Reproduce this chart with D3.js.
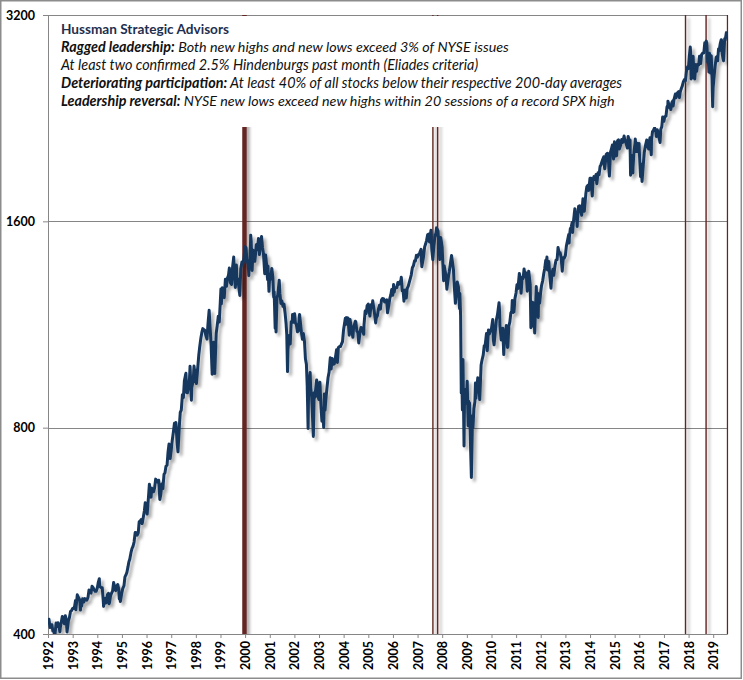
<!DOCTYPE html>
<html>
<head>
<meta charset="utf-8">
<script src="https://cdn.jsdelivr.net/npm/d3@7"></script>
<style>
  body { margin: 0; background: #fff; }
  text { font-family: Lato, "Open Sans", sans-serif; }
</style>
</head>
<body>
<div id="chart"></div>
<script>
// S&P 500 (SPX), roughly twice a month plus the notable highs / lows
const spx = [
  ["1992-01-02",417.3],["1992-01-15",420.4],["1992-01-31",408.8],["1992-02-14",412.5],["1992-02-28",412.7],["1992-03-13",403.9],["1992-03-31",403.7],["1992-04-08",394.5],["1992-04-30",414.9],["1992-05-15",410.1],["1992-05-29",415.4],["1992-06-12",409.8],["1992-06-25",403.1],["1992-06-30",408.1],["1992-07-15",415.6],["1992-07-31",424.2],["1992-08-14",419.9],["1992-08-31",414.0],["1992-09-14",425.3],["1992-09-30",417.8],["1992-10-09",402.7],["1992-10-30",418.7],["1992-11-13",422.4],["1992-11-30",431.4],["1992-12-15",432.6],["1992-12-31",435.7],
  ["1993-01-15",435.9],["1993-01-29",438.8],["1993-02-12",447.7],["1993-02-16",433.9],["1993-02-26",443.4],["1993-03-10",456.3],["1993-03-31",451.7],["1993-04-15",448.4],["1993-04-26",433.5],["1993-04-30",440.2],["1993-05-14",439.6],["1993-05-28",450.2],["1993-06-15",445.4],["1993-06-30",450.5],["1993-07-15",449.2],["1993-07-30",448.1],["1993-08-16",452.4],["1993-08-31",463.6],["1993-09-15",461.6],["1993-09-30",458.9],["1993-10-15",469.5],["1993-10-29",467.8],["1993-11-15",463.8],["1993-11-30",461.8],["1993-12-15",461.8],["1993-12-31",466.5],
  ["1994-01-14",474.9],["1994-01-31",481.6],["1994-02-04",469.8],["1994-02-28",467.1],["1994-03-15",467.4],["1994-03-31",445.8],["1994-04-04",438.9],["1994-04-15",446.2],["1994-04-29",450.9],["1994-05-13",444.1],["1994-05-31",456.5],["1994-06-15",458.6],["1994-06-24",442.8],["1994-06-30",444.3],["1994-07-15",454.2],["1994-07-29",458.3],["1994-08-15",461.9],["1994-08-31",475.5],["1994-09-15",468.8],["1994-09-30",462.7],["1994-10-14",469.1],["1994-10-31",472.4],["1994-11-15",465.0],["1994-11-23",449.9],["1994-11-30",453.7],["1994-12-09",446.0],["1994-12-30",459.3],
  ["1995-01-13",465.9],["1995-01-31",470.4],["1995-02-15",484.6],["1995-02-28",487.4],["1995-03-15",491.9],["1995-03-31",500.7],["1995-04-13",509.2],["1995-04-28",514.7],["1995-05-15",525.6],["1995-05-31",533.4],["1995-06-15",537.1],["1995-06-30",544.8],["1995-07-17",562.7],["1995-07-31",562.1],["1995-08-15",557.4],["1995-08-31",561.9],["1995-09-14",583.6],["1995-09-29",584.4],["1995-10-13",587.4],["1995-10-27",579.7],["1995-10-31",581.5],["1995-11-15",593.3],["1995-11-30",605.4],["1995-12-13",621.7],["1995-12-29",615.9],
  ["1996-01-10",598.5],["1996-01-31",636.0],["1996-02-12",661.5],["1996-02-29",640.4],["1996-03-08",633.5],["1996-03-18",652.7],["1996-03-29",645.5],["1996-04-15",645.1],["1996-04-30",654.2],["1996-05-15",673.0],["1996-05-31",669.1],["1996-06-14",665.9],["1996-06-28",670.6],["1996-07-05",657.4],["1996-07-16",628.4],["1996-07-31",639.9],["1996-08-15",662.3],["1996-08-30",652.0],["1996-09-16",684.0],["1996-09-30",687.3],["1996-10-15",702.6],["1996-10-31",705.3],["1996-11-15",737.6],["1996-11-29",757.0],["1996-12-05",744.4],["1996-12-16",721.0],["1996-12-31",740.7],
  ["1997-01-15",765.0],["1997-01-31",786.2],["1997-02-18",812.0],["1997-02-28",790.8],["1997-03-11",813.7],["1997-03-31",757.1],["1997-04-11",737.7],["1997-04-30",801.3],["1997-05-15",841.9],["1997-05-30",848.3],["1997-06-16",893.9],["1997-06-30",885.1],["1997-07-15",936.6],["1997-07-31",954.3],["1997-08-07",960.3],["1997-08-15",900.8],["1997-08-29",899.5],["1997-09-15",919.8],["1997-09-30",947.3],["1997-10-07",983.1],["1997-10-27",877.0],["1997-10-31",914.6],["1997-11-14",928.4],["1997-11-28",955.4],["1997-12-05",983.8],["1997-12-24",932.7],["1997-12-31",970.4],
  ["1998-01-09",927.7],["1998-01-30",980.3],["1998-02-13",1020.1],["1998-02-27",1049.3],["1998-03-16",1080.5],["1998-03-31",1101.8],["1998-04-14",1115.8],["1998-04-30",1111.8],["1998-05-15",1108.7],["1998-05-29",1090.8],["1998-06-15",1077.0],["1998-06-30",1133.8],["1998-07-17",1186.8],["1998-07-31",1120.7],["1998-08-14",1062.8],["1998-08-31",957.3],["1998-09-15",1029.7],["1998-09-23",1066.1],["1998-09-30",1017.0],["1998-10-08",959.4],["1998-10-30",1098.7],["1998-11-13",1125.7],["1998-11-30",1163.6],["1998-12-14",1141.2],["1998-12-31",1229.2],
  ["1999-01-08",1275.1],["1999-01-14",1212.2],["1999-01-29",1279.6],["1999-02-09",1243.8],["1999-02-26",1238.3],["1999-03-15",1316.6],["1999-03-31",1286.4],["1999-04-15",1322.9],["1999-04-30",1335.2],["1999-05-13",1367.6],["1999-05-28",1301.8],["1999-06-14",1294.0],["1999-06-30",1372.7],["1999-07-16",1418.8],["1999-07-30",1328.7],["1999-08-10",1281.4],["1999-08-25",1381.8],["1999-08-31",1320.4],["1999-09-15",1318.5],["1999-09-30",1282.7],["1999-10-15",1247.4],["1999-10-29",1362.9],["1999-11-15",1396.1],["1999-11-30",1388.9],["1999-12-15",1413.3],["1999-12-31",1469.3],
  ["2000-01-14",1465.2],["2000-01-31",1394.5],["2000-02-15",1402.1],["2000-02-25",1333.4],["2000-02-29",1366.4],["2000-03-15",1392.1],["2000-03-24",1527.5],["2000-03-31",1498.6],["2000-04-14",1356.6],["2000-04-28",1452.4],["2000-05-12",1421.0],["2000-05-24",1399.1],["2000-05-31",1420.6],["2000-06-15",1478.7],["2000-06-30",1454.6],["2000-07-17",1510.5],["2000-07-31",1430.8],["2000-08-15",1484.4],["2000-09-01",1520.8],["2000-09-15",1465.8],["2000-09-29",1436.5],["2000-10-18",1342.1],["2000-10-31",1429.4],["2000-11-15",1383.0],["2000-11-30",1315.2],["2000-12-05",1376.5],["2000-12-20",1264.7],["2000-12-29",1320.3],
  ["2001-01-15",1318.3],["2001-01-31",1366.0],["2001-02-15",1326.6],["2001-02-28",1239.9],["2001-03-07",1263.0],["2001-03-22",1117.6],["2001-03-30",1160.3],["2001-04-04",1103.3],["2001-04-18",1238.2],["2001-04-30",1249.5],["2001-05-21",1312.8],["2001-05-31",1255.8],["2001-06-15",1214.4],["2001-06-29",1224.4],["2001-07-16",1202.5],["2001-07-31",1211.2],["2001-08-15",1178.0],["2001-08-31",1133.6],["2001-09-10",1092.5],["2001-09-21",965.8],["2001-09-28",1040.9],["2001-10-15",1090.0],["2001-10-31",1059.8],["2001-11-15",1142.2],["2001-11-30",1139.5],["2001-12-05",1170.4],["2001-12-20",1139.9],["2001-12-31",1148.1],
  ["2002-01-04",1172.5],["2002-01-15",1138.4],["2002-01-31",1130.2],["2002-02-15",1104.2],["2002-02-28",1106.7],["2002-03-19",1170.3],["2002-03-28",1147.4],["2002-04-15",1102.6],["2002-04-30",1076.9],["2002-05-14",1097.3],["2002-05-31",1067.1],["2002-06-14",1007.3],["2002-06-28",989.8],["2002-07-10",920.5],["2002-07-23",797.7],["2002-07-31",911.6],["2002-08-22",962.7],["2002-08-30",916.1],["2002-09-13",889.8],["2002-09-30",815.3],["2002-10-09",776.8],["2002-10-21",899.7],["2002-10-31",885.8],["2002-11-27",938.9],["2002-11-29",936.3],["2002-12-13",889.5],["2002-12-31",879.8],
  ["2003-01-14",931.7],["2003-01-31",855.7],["2003-02-13",817.4],["2003-02-28",841.2],["2003-03-11",800.7],["2003-03-21",895.8],["2003-03-31",848.2],["2003-04-15",885.2],["2003-04-30",916.9],["2003-05-15",946.7],["2003-05-30",963.6],["2003-06-17",1011.7],["2003-06-30",974.5],["2003-07-14",1009.1],["2003-07-31",990.3],["2003-08-15",990.7],["2003-08-29",1008.0],["2003-09-18",1039.6],["2003-09-30",996.0],["2003-10-15",1046.9],["2003-10-31",1050.7],["2003-11-14",1050.4],["2003-11-28",1058.2],["2003-12-15",1068.0],["2003-12-31",1111.9],
  ["2004-01-26",1155.4],["2004-01-30",1131.1],["2004-02-11",1157.8],["2004-02-27",1144.9],["2004-03-05",1156.9],["2004-03-24",1091.3],["2004-03-31",1126.2],["2004-04-05",1150.6],["2004-04-30",1107.3],["2004-05-17",1084.1],["2004-05-28",1120.7],["2004-06-23",1144.1],["2004-06-30",1140.8],["2004-07-15",1106.7],["2004-07-30",1101.7],["2004-08-12",1063.2],["2004-08-31",1104.2],["2004-09-15",1120.4],["2004-09-30",1114.6],["2004-10-25",1094.8],["2004-10-29",1130.2],["2004-11-15",1183.8],["2004-11-30",1173.8],["2004-12-15",1205.7],["2004-12-31",1211.9],
  ["2005-01-24",1163.8],["2005-01-31",1181.3],["2005-02-15",1210.1],["2005-02-28",1203.6],["2005-03-07",1225.3],["2005-03-31",1180.6],["2005-04-20",1137.5],["2005-04-29",1156.9],["2005-05-16",1165.7],["2005-05-31",1191.5],["2005-06-15",1206.6],["2005-06-30",1191.3],["2005-07-15",1227.9],["2005-07-29",1234.2],["2005-08-15",1233.9],["2005-08-31",1220.3],["2005-09-15",1227.2],["2005-09-30",1228.8],["2005-10-13",1176.8],["2005-10-31",1207.0],["2005-11-15",1234.0],["2005-11-30",1249.5],["2005-12-14",1272.7],["2005-12-30",1248.3],
  ["2006-01-11",1294.2],["2006-01-20",1261.5],["2006-01-31",1280.1],["2006-02-15",1280.0],["2006-02-28",1280.7],["2006-03-15",1303.0],["2006-03-31",1294.9],["2006-04-18",1307.7],["2006-04-28",1310.6],["2006-05-05",1325.8],["2006-05-19",1267.0],["2006-05-31",1270.1],["2006-06-13",1223.7],["2006-06-30",1270.2],["2006-07-18",1236.9],["2006-07-31",1276.7],["2006-08-15",1285.6],["2006-08-31",1303.8],["2006-09-15",1319.7],["2006-09-29",1335.9],["2006-10-16",1369.1],["2006-10-31",1377.9],["2006-11-17",1401.2],["2006-11-30",1400.6],["2006-12-15",1427.1],["2006-12-29",1418.3],
  ["2007-01-16",1431.9],["2007-01-31",1438.2],["2007-02-22",1456.4],["2007-02-27",1399.0],["2007-02-28",1406.8],["2007-03-05",1374.1],["2007-03-30",1420.9],["2007-04-16",1468.5],["2007-04-30",1482.4],["2007-05-15",1501.2],["2007-05-31",1530.6],["2007-06-15",1532.9],["2007-06-26",1492.9],["2007-06-29",1503.4],["2007-07-19",1553.1],["2007-07-31",1455.3],["2007-08-15",1406.7],["2007-08-31",1474.0],["2007-09-19",1529.0],["2007-09-28",1526.8],["2007-10-09",1565.2],["2007-10-31",1549.4],["2007-11-26",1407.2],["2007-11-30",1481.1],["2007-12-10",1516.0],["2007-12-31",1468.4],
  ["2008-01-22",1310.5],["2008-01-31",1378.6],["2008-02-15",1350.0],["2008-02-29",1330.6],["2008-03-10",1273.4],["2008-03-31",1322.7],["2008-04-15",1351.0],["2008-04-30",1385.6],["2008-05-19",1426.6],["2008-05-30",1400.4],["2008-06-16",1360.1],["2008-06-30",1280.0],["2008-07-15",1214.9],["2008-07-31",1267.4],["2008-08-11",1305.3],["2008-08-29",1282.8],["2008-09-15",1192.7],["2008-09-19",1255.1],["2008-09-30",1166.4],["2008-10-10",899.2],["2008-10-13",1003.4],["2008-10-27",848.9],["2008-10-31",968.8],["2008-11-04",1005.8],["2008-11-20",752.4],["2008-11-28",896.2],["2008-12-08",909.7],["2008-12-15",868.6],["2008-12-31",903.3],
  ["2009-01-06",934.7],["2009-01-20",805.2],["2009-01-28",874.1],["2009-01-30",825.9],["2009-02-09",869.9],["2009-02-27",735.1],["2009-03-09",676.5],["2009-03-26",832.9],["2009-03-31",797.9],["2009-04-15",852.1],["2009-04-30",872.8],["2009-05-08",929.2],["2009-05-15",882.9],["2009-05-29",919.1],["2009-06-12",946.2],["2009-06-30",919.3],["2009-07-10",879.1],["2009-07-31",987.5],["2009-08-14",1004.1],["2009-08-31",1020.6],["2009-09-15",1052.6],["2009-09-30",1057.1],["2009-10-19",1097.9],["2009-10-30",1036.2],["2009-11-17",1110.3],["2009-11-30",1095.6],["2009-12-15",1107.9],["2009-12-31",1115.1],
  ["2010-01-19",1150.2],["2010-01-29",1073.9],["2010-02-08",1056.7],["2010-02-26",1104.5],["2010-03-15",1150.5],["2010-03-31",1169.4],["2010-04-23",1217.3],["2010-04-30",1186.7],["2010-05-06",1128.2],["2010-05-25",1074.0],["2010-05-28",1089.4],["2010-06-18",1117.5],["2010-06-30",1030.7],["2010-07-02",1022.6],["2010-07-15",1096.5],["2010-07-30",1101.6],["2010-08-09",1127.8],["2010-08-26",1047.2],["2010-08-31",1049.3],["2010-09-15",1125.1],["2010-09-30",1141.2],["2010-10-15",1176.2],["2010-10-29",1183.3],["2010-11-05",1225.9],["2010-11-16",1178.3],["2010-11-30",1180.6],["2010-12-15",1235.2],["2010-12-31",1257.6],
  ["2011-01-14",1293.2],["2011-01-28",1276.3],["2011-01-31",1286.1],["2011-02-18",1343.0],["2011-02-28",1327.2],["2011-03-16",1256.9],["2011-03-31",1325.8],["2011-04-15",1319.7],["2011-04-29",1363.6],["2011-05-16",1329.5],["2011-05-31",1345.2],["2011-06-15",1265.4],["2011-06-30",1320.6],["2011-07-07",1353.2],["2011-07-29",1292.3],["2011-08-08",1119.5],["2011-08-15",1204.5],["2011-08-19",1123.5],["2011-08-31",1218.9],["2011-09-16",1216.0],["2011-09-22",1129.6],["2011-09-30",1131.4],["2011-10-03",1099.2],["2011-10-27",1285.1],["2011-10-31",1253.3],["2011-11-15",1257.8],["2011-11-25",1158.7],["2011-11-30",1247.0],["2011-12-15",1215.8],["2011-12-30",1257.6],
  ["2012-01-13",1289.1],["2012-01-31",1312.4],["2012-02-15",1343.2],["2012-02-29",1365.7],["2012-03-15",1402.6],["2012-03-30",1408.5],["2012-04-02",1419.0],["2012-04-10",1358.6],["2012-04-30",1397.9],["2012-05-15",1330.7],["2012-06-01",1278.0],["2012-06-15",1342.8],["2012-06-29",1362.2],["2012-07-12",1334.8],["2012-07-31",1379.3],["2012-08-15",1405.5],["2012-08-31",1406.6],["2012-09-14",1465.8],["2012-09-28",1440.7],["2012-10-15",1440.1],["2012-10-31",1412.2],["2012-11-15",1353.3],["2012-11-30",1416.2],["2012-12-14",1413.6],["2012-12-31",1426.2],
  ["2013-01-15",1472.3],["2013-01-31",1498.1],["2013-02-19",1530.9],["2013-02-25",1487.9],["2013-02-28",1514.7],["2013-03-15",1560.7],["2013-03-28",1569.2],["2013-04-11",1593.4],["2013-04-18",1541.6],["2013-04-30",1597.6],["2013-05-21",1669.2],["2013-05-31",1630.7],["2013-06-14",1626.7],["2013-06-24",1573.1],["2013-06-28",1606.3],["2013-07-15",1682.5],["2013-07-31",1685.7],["2013-08-15",1661.3],["2013-08-30",1633.0],["2013-09-18",1725.5],["2013-09-30",1681.6],["2013-10-08",1655.5],["2013-10-31",1756.5],["2013-11-15",1798.2],["2013-11-29",1805.8],["2013-12-13",1775.3],["2013-12-31",1848.4],
  ["2014-01-15",1848.4],["2014-02-03",1741.9],["2014-02-14",1838.6],["2014-02-28",1859.5],["2014-03-14",1841.1],["2014-03-31",1872.3],["2014-04-11",1815.7],["2014-04-30",1883.9],["2014-05-15",1870.9],["2014-05-30",1923.6],["2014-06-13",1936.2],["2014-06-30",1960.2],["2014-07-24",1988.0],["2014-07-31",1930.7],["2014-08-07",1909.6],["2014-08-29",2003.4],["2014-09-18",2011.4],["2014-09-30",1972.3],["2014-10-15",1862.5],["2014-10-31",2018.1],["2014-11-14",2039.8],["2014-11-28",2067.6],["2014-12-16",1972.7],["2014-12-29",2090.6],["2014-12-31",2058.9],
  ["2015-01-15",1992.7],["2015-01-30",1995.0],["2015-02-13",2097.0],["2015-02-27",2104.5],["2015-03-11",2040.2],["2015-03-31",2067.9],["2015-04-15",2106.6],["2015-04-30",2085.5],["2015-05-21",2130.8],["2015-05-29",2107.4],["2015-06-15",2084.4],["2015-06-30",2063.1],["2015-07-08",2046.7],["2015-07-20",2128.3],["2015-07-31",2103.8],["2015-08-17",2102.4],["2015-08-25",1867.6],["2015-08-31",1972.2],["2015-09-16",1995.3],["2015-09-28",1881.8],["2015-09-30",1920.0],["2015-10-15",2023.9],["2015-10-30",2079.4],["2015-11-03",2109.8],["2015-11-13",2023.0],["2015-11-30",2080.4],["2015-12-14",2021.9],["2015-12-29",2078.4],["2015-12-31",2043.9],
  ["2016-01-20",1859.3],["2016-01-29",1940.2],["2016-02-11",1829.1],["2016-02-29",1932.2],["2016-03-15",2015.9],["2016-03-31",2059.7],["2016-04-20",2102.4],["2016-04-29",2065.3],["2016-05-19",2040.0],["2016-05-31",2096.9],["2016-06-08",2119.1],["2016-06-27",2000.5],["2016-06-30",2098.9],["2016-07-15",2161.7],["2016-07-29",2173.6],["2016-08-15",2190.2],["2016-08-31",2170.9],["2016-09-09",2127.8],["2016-09-22",2177.2],["2016-09-30",2168.3],["2016-10-14",2133.0],["2016-11-04",2085.2],["2016-11-15",2180.4],["2016-11-30",2199.0],["2016-12-13",2271.7],["2016-12-30",2238.8],
  ["2017-01-13",2274.6],["2017-01-31",2278.9],["2017-02-15",2349.3],["2017-02-28",2363.6],["2017-03-01",2396.0],["2017-03-27",2341.6],["2017-03-31",2362.7],["2017-04-13",2329.0],["2017-04-28",2384.2],["2017-05-16",2400.7],["2017-05-17",2357.0],["2017-05-31",2411.8],["2017-06-19",2453.5],["2017-06-30",2423.4],["2017-07-14",2459.3],["2017-07-31",2470.3],["2017-08-08",2474.9],["2017-08-18",2425.6],["2017-08-31",2471.7],["2017-09-15",2500.2],["2017-09-29",2519.4],["2017-10-16",2557.6],["2017-10-31",2575.3],["2017-11-15",2564.6],["2017-11-30",2647.6],["2017-12-18",2690.2],["2017-12-29",2673.6],
  ["2018-01-12",2786.2],["2018-01-26",2872.9],["2018-01-31",2823.8],["2018-02-08",2581.0],["2018-02-26",2779.6],["2018-02-28",2713.8],["2018-03-09",2786.6],["2018-03-23",2588.3],["2018-03-29",2640.9],["2018-04-02",2581.9],["2018-04-18",2708.6],["2018-04-30",2648.1],["2018-05-15",2711.5],["2018-05-31",2705.3],["2018-06-12",2786.9],["2018-06-29",2718.4],["2018-07-13",2801.3],["2018-07-31",2816.3],["2018-08-15",2818.4],["2018-08-29",2914.0],["2018-08-31",2901.5],["2018-09-20",2930.8],["2018-09-28",2914.0],["2018-10-11",2728.4],["2018-10-17",2809.2],["2018-10-29",2641.3],["2018-10-31",2711.7],["2018-11-07",2813.9],["2018-11-23",2632.6],["2018-11-30",2760.2],["2018-12-03",2790.4],["2018-12-14",2600.0],["2018-12-24",2351.1],["2018-12-31",2506.9],
  ["2019-01-15",2610.3],["2019-01-31",2704.1],["2019-02-15",2775.6],["2019-02-28",2784.5],["2019-03-08",2743.1],["2019-03-21",2854.9],["2019-03-29",2834.4],["2019-04-15",2905.6],["2019-04-30",2945.8],["2019-05-03",2945.6],["2019-05-13",2811.9],["2019-05-31",2752.1],["2019-06-03",2744.5],["2019-06-20",2954.2],["2019-06-28",2941.8],["2019-07-15",3014.3],["2019-07-26",3025.9]
];

// warning periods (start, end)
const signals = [
  ["1999-11-20", "2000-01-25"],
  ["2007-08-06", "2007-08-08"],
  ["2007-10-15", "2007-11-05"],
  ["2017-11-06", "2017-11-08"],
  ["2018-09-07", "2018-09-10"],
  ["2019-07-22", "2019-07-26"]
];

const yTicks = [400, 800, 1600, 3200];
const yearTicks = d3.range(1992, 2020);

// legend lines: [bold-italic label, italic text]
const titleLine = "Hussman Strategic Advisors";
const notes = [
  ["Ragged leadership:", " Both new highs and new lows exceed 3% of NYSE issues"],
  ["", "At least two confirmed 2.5% Hindenburgs past month (Eliades criteria)"],
  ["Deteriorating participation:", " At least 40% of all stocks below their respective 200-day averages"],
  ["Leadership reversal:", " NYSE new lows exceed new highs within 20 sessions of a record SPX high"]
];
// measured line widths in the picture, px
const noteWidths = [448, 417, 561, 554];

const W = 743, H = 680;
const margin = { top: 15, right: 15.7, bottom: 46, left: 48 },
  width = W - margin.left - margin.right,
  height = H - margin.top - margin.bottom;

const parse = d3.timeParse("%Y-%m-%d");
const data = spx.map(d => ({ date: parse(d[0]), y: d[1] }));

const x = d3
  .scaleTime()
  .domain([new Date(1992, 0, 1), new Date(2019, 6, 29)])
  .range([0, width]);

const y = d3
  .scaleLog()
  .domain([400, 3200])
  .range([height, 0]);

const svg = d3
  .select("#chart")
  .append("svg")
  .attr("width", W)
  .attr("height", H);

// shadow like the spreadsheet's outer shadow
const defs = svg.append("defs");
const f = defs
  .append("filter")
  .attr("id", "shadow")
  .attr("x", "-20%").attr("y", "-20%")
  .attr("width", "140%").attr("height", "140%");
f.append("feDropShadow")
  .attr("dx", 3).attr("dy", 3)
  .attr("stdDeviation", 1.8)
  .attr("flood-color", "#000")
  .attr("flood-opacity", 0.32);

defs
  .append("clipPath")
  .attr("id", "plotclip")
  .append("rect")
  .attr("x", 0).attr("y", 0)
  .attr("width", width + 1).attr("height", height);

// outer frame
svg
  .append("rect")
  .attr("x", 0.75).attr("y", 0.75)
  .attr("width", W - 2.5).attr("height", H - 2.5)
  .attr("fill", "#fff")
  .attr("stroke", "#8c8c8c")
  .attr("stroke-width", 1.5);

const chart = svg
  .append("g")
  .attr("transform", "translate(" + margin.left + "," + margin.top + ")");

// gridlines
chart
  .append("g")
  .selectAll("line")
  .data(yTicks.slice(1))
  .join("line")
  .attr("x1", 0).attr("x2", width)
  .attr("y1", d => Math.round(y(d)) + 0.5)
  .attr("y2", d => Math.round(y(d)) + 0.5)
  .attr("stroke", "#868686");

// y axis
const yAxis = chart
  .append("g")
  .call(d3.axisLeft(y).tickValues(yTicks).tickFormat(d3.format("d")).tickSize(5).tickPadding(8));
yAxis.select(".domain").attr("stroke", "#868686");
yAxis.selectAll(".tick line").attr("stroke", "#868686");
yAxis.selectAll(".tick text")
  .attr("fill", "#000")
  .style("font-size", "12.5px")
  .style("font-weight", "bold");

// x axis
const xAxis = chart
  .append("g")
  .attr("transform", "translate(0," + height + ")")
  .call(d3.axisBottom(x)
    .tickValues(yearTicks.map(yr => new Date(yr, 0, 1)))
    .tickFormat(d3.timeFormat("%Y"))
    .tickSize(4)
    .tickSizeOuter(0));
xAxis.select(".domain").attr("stroke", "#868686");
xAxis.selectAll(".tick line").attr("stroke", "#868686");
xAxis.selectAll(".tick text")
  .attr("fill", "#000")
  .attr("transform", "rotate(-90)")
  .attr("text-anchor", "end")
  .attr("x", -7)
  .attr("y", 0)
  .attr("dy", "0.36em")
  .attr("dx", 0)
  .style("font-size", "12.5px")
  .style("font-weight", "bold");

// signal bars
chart
  .append("g")
  .attr("clip-path", "url(#plotclip)")
  .attr("filter", "url(#shadow)")
  .selectAll("rect")
  .data(signals)
  .join("rect")
  .attr("x", d => x(parse(d[0])))
  .attr("y", 0)
  .attr("width", d => Math.max(x(parse(d[1])) - x(parse(d[0])), 1.4))
  .attr("height", height)
  .attr("fill", "#632523");

// SPX line
const line = d3
  .line()
  .x(d => x(d.date))
  .y(d => y(d.y));

chart
  .append("g")
  .attr("clip-path", "url(#plotclip)")
  .append("path")
  .datum(data)
  .attr("d", line)
  .attr("fill", "none")
  .attr("stroke", "#17375e")
  .attr("stroke-width", 3)
  .attr("stroke-linejoin", "round")
  .attr("filter", "url(#shadow)");

// white text box over the plot (hides the bars behind the notes)
chart
  .append("rect")
  .attr("x", 1)
  .attr("y", 1)
  .attr("width", 607)
  .attr("height", 111)
  .attr("fill", "#fff");

// legend text, font size fitted to the measured widths
function fit(t, target) {
  const w = t.node().getComputedTextLength();
  const fs = parseFloat(t.style("font-size"));
  t.style("font-size", (fs * target / w).toFixed(2) + "px");
}

const legend = svg.append("g").attr("transform", "translate(61,0)");
const title = legend
  .append("text")
  .attr("y", 34)
  .attr("fill", "#1f2f4f")
  .style("font-size", "13px")
  .style("font-weight", "bold")
  .text(titleLine);
fit(title, 168);

notes.forEach((n, i) => {
  const t = legend
    .append("text")
    .attr("y", 52 + i * 18)
    .attr("fill", "#111")
    .style("font-size", "13px")
    .style("font-style", "italic");
  if (n[0]) t.append("tspan").style("font-weight", "bold").text(n[0]);
  t.append("tspan").text(n[1]);
  fit(t, noteWidths[i]);
});
</script>
</body>
</html>
